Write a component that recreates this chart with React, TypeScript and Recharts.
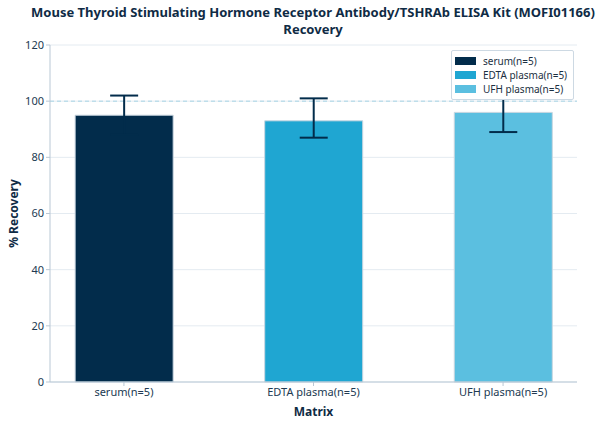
import { BarChart, Bar, XAxis, YAxis, CartesianGrid, ReferenceLine, ErrorBar, Cell } from 'recharts';

const categories = ['serum(n=5)', 'EDTA plasma(n=5)', 'UFH plasma(n=5)'];
const recovery = [95, 93, 96];
const errLow = [7, 6, 7];
const errHigh = [7, 8, 7];
const barColors = ['#022c4b', '#1fa6d2', '#5bbfe0'];
const yTicks = [0, 20, 40, 60, 80, 100, 120];

const data = categories.map((name, i) => ({
  idx: i,
  name,
  recovery: recovery[i],
  err: [errLow[i], errHigh[i]],
}));

const FONT = '"Noto Sans", "Open Sans", sans-serif';
const TEXT = '#213a52';
const AXIS = '#b9c8d5';

function LegendBox() {
  return (
    <div style={{ position: 'absolute', top: 50, left: 451, background: '#fff', border: '1px solid #cdd9e3', borderRadius: 2, padding: '3px 6px 3px 3px', fontFamily: FONT, fontSize: 10, color: '#1b2f42' }}>
      {categories.map((c, i) => (
        <div key={c} style={{ display: 'flex', alignItems: 'center', height: 14 }}>
          <span style={{ display: 'inline-block', width: 21, height: 8, background: barColors[i], marginRight: 7 }} />
          <span>{c}</span>
        </div>
      ))}
    </div>
  );
}

export default function App() {
  return (
    <div style={{ position: 'absolute', left: 0, top: 0, width: 608, height: 426, background: '#fff', fontFamily: FONT }}>
      <div style={{ position: 'absolute', top: 4, left: 0, width: 626, textAlign: 'center', fontWeight: 700, fontSize: 13, lineHeight: '17px', color: '#0f2b45' }}>
        Mouse Thyroid Stimulating Hormone Receptor Antibody/TSHRAb ELISA Kit (MOFI01166)<br />Recovery
      </div>
      <BarChart width={608} height={426} data={data} margin={{ top: 45, right: 31, left: 0, bottom: 0 }}>
        <CartesianGrid vertical={false} stroke="#e4ebf1" />
        <XAxis
          type="number"
          dataKey="idx"
          domain={[-0.39, 2.39]}
          ticks={[0, 1, 2]}
          tickFormatter={(v: number) => categories[v] ?? ''}
          height={44}
          stroke={AXIS}
          tickSize={4}
          tick={{ fill: TEXT, fontSize: 11, fontFamily: FONT }}
          label={{ value: 'Matrix', position: 'insideBottom', offset: 10, fill: '#0f2b45', fontSize: 12, fontWeight: 700, fontFamily: FONT }}
        />
        <YAxis
          domain={[0, 120]}
          ticks={yTicks}
          width={50}
          stroke={AXIS}
          tickSize={4}
          tick={{ fill: TEXT, fontSize: 11, fontFamily: FONT }}
          label={{ value: '% Recovery', angle: -90, position: 'insideLeft', offset: 14, style: { textAnchor: 'middle' }, fill: '#0f2b45', fontSize: 12, fontWeight: 700, fontFamily: FONT }}
        />
        <ReferenceLine y={100} stroke="#a6d3e4" strokeDasharray="4 3" />
        <Bar dataKey="recovery" barSize={98} stroke="#c9d6e0" strokeWidth={1} isAnimationActive={false}>
          {data.map((d, i) => (
            <Cell key={d.name} fill={barColors[i]} />
          ))}
          <ErrorBar dataKey="err" direction="y" width={14} stroke="#022c4b" strokeWidth={2} isAnimationActive={false} />
        </Bar>
      </BarChart>
      <LegendBox />
    </div>
  );
}
